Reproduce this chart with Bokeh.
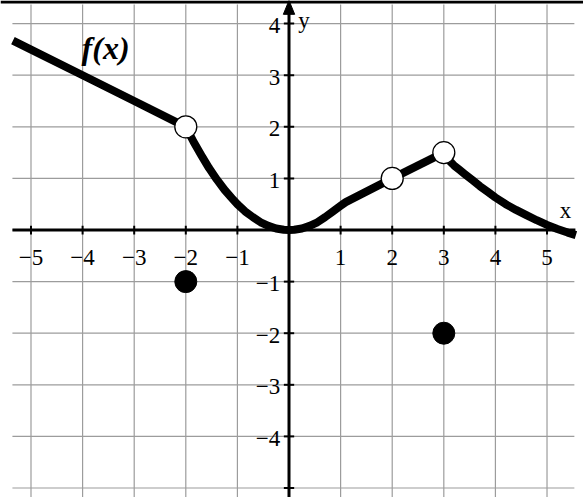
from bokeh.plotting import figure
from bokeh.models import Range1d
from bokeh.embed import file_html
from bokeh.resources import INLINE
from bokeh.core.properties import value

# ---- data ----
grid_x = [-5, -4, -3, -2, -1, 0, 1, 2, 3, 4, 5]
grid_y = [-5, -4, -3, -2, -1, 0, 1, 2, 3, 4]

x_ticks = [-5, -4, -3, -2, -1, 1, 2, 3, 4, 5]
x_tick_labels = ["\u22125", "\u22124", "\u22123", "\u22122", "\u22121", "1", "2", "3", "4", "5"]
y_ticks = [-5, -4, -3, -2, -1, 1, 2, 3, 4]
y_label_vals = [-4, -3, -2, -1, 1, 2, 3, 4]
y_tick_labels = ["\u22124", "\u22123", "\u22122", "\u22121", "1", "2", "3", "4"]

curve_x = [-5.35, -4, -3, -2, -1.85, -1.7, -1.55, -1.4, -1.25, -1.1, -1, -0.85, -0.7,
           -0.55, -0.4, -0.25, -0.1, 0, 0.1, 0.25, 0.4, 0.55, 0.7, 0.85, 1, 1.1, 2, 3,
           3.05, 3.12, 3.2, 3.3, 3.4, 3.55, 3.7, 3.85, 4.0, 4.2, 4.4, 4.6, 4.8, 5.0,
           5.2, 5.4, 5.56]
curve_y = [3.67, 3.0, 2.5, 2.0, 1.71, 1.45, 1.2, 0.98, 0.78, 0.61, 0.5, 0.36, 0.25,
           0.15, 0.08, 0.03, 0.005, 0.0, 0.005, 0.03, 0.08, 0.15, 0.25, 0.36, 0.47, 0.54, 1.0, 1.5,
           1.41, 1.33, 1.25, 1.17, 1.09, 0.97, 0.85, 0.74, 0.63, 0.5, 0.39, 0.29, 0.19, 0.1,
           0.02, -0.05, -0.1]

open_x = [-2, 2, 3]
open_y = [2, 1, 1.5]
closed_x = [-2, 3]
closed_y = [-1, -2]

# ---- figure ----
XL, XR = -5.591, 5.707
YB, YT = -5.184, 4.448
p = figure(width=583, height=497, x_range=Range1d(XL, XR), y_range=Range1d(YB, YT),
           output_backend="svg", toolbar_location=None,
           x_axis_location=None, y_axis_location=None, min_border=0)
p.outline_line_color = None
p.grid.visible = False
p.background_fill_color = "white"

GRID = "#9c9c9c"
# grid lines
p.segment(x0=grid_x, y0=[YB] * len(grid_x), x1=grid_x, y1=[4.37] * len(grid_x),
          line_color=GRID, line_width=1.2)
p.segment(x0=[-5.36] * len(grid_y), y0=grid_y, x1=[5.53] * len(grid_y), y1=grid_y,
          line_color=GRID, line_width=1.2)

# top border line
p.segment(x0=[XL], y0=[4.418], x1=[XR], y1=[4.418], line_color="black", line_width=3)

# axes
p.segment(x0=[-5.36], y0=[0], x1=[5.55], y1=[0], line_color="black", line_width=3)
p.segment(x0=[0], y0=[YB], x1=[0], y1=[4.2], line_color="black", line_width=3)
p.patch(x=[0, -0.11, 0.11], y=[4.45, 4.18, 4.18], fill_color="black", line_color="black")

# ticks
p.segment(x0=x_ticks, y0=[-0.085] * len(x_ticks), x1=x_ticks, y1=[0.085] * len(x_ticks),
          line_color="black", line_width=2)
p.segment(x0=[-0.1] * len(y_ticks), y0=y_ticks, x1=[0.1] * len(y_ticks), y1=y_ticks,
          line_color="black", line_width=2)

# tick labels
FONT = value("Liberation Serif")
p.text(x=x_ticks, y=[-0.53] * len(x_ticks), text=x_tick_labels, text_font=FONT,
       text_font_size="23px", text_align="center", text_baseline="middle", text_color="black")
p.text(x=[-0.17] * len(y_label_vals), y=[v - 0.04 for v in y_label_vals], text=y_tick_labels,
       text_font=FONT, text_font_size="23px", text_align="right", text_baseline="middle",
       text_color="black")

# axis names
p.text(x=[5.36], y=[0.37], text=["x"], text_font=FONT, text_font_size="23px",
       text_align="center", text_baseline="middle", text_color="black")
p.text(x=[0.29], y=[4.07], text=["y"], text_font=FONT, text_font_size="23px",
       text_align="center", text_baseline="middle", text_color="black")

# curve
p.line(curve_x, curve_y, line_color="black", line_width=8, line_join="round", line_cap="butt")

# function name
p.text(x=[-4.02], y=[3.52], text=["f(x)"], text_font=FONT, text_font_size="32px",
       text_font_style="bold italic", text_align="left", text_baseline="middle",
       text_color="black")

# points
p.scatter(open_x, open_y, size=22, fill_color="white", line_color="black", line_width=1.3)
p.scatter(closed_x, closed_y, size=22, fill_color="black", line_color="black")

open("out.html", "w").write(file_html(p, INLINE))
